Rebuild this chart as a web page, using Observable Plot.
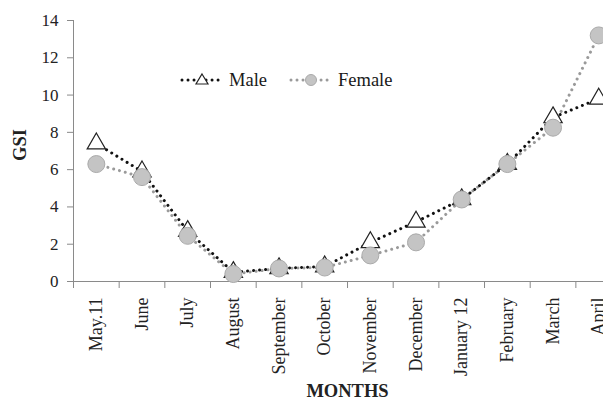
<!DOCTYPE html>
<html><head><meta charset="utf-8">
<script src="https://cdn.jsdelivr.net/npm/d3@7"></script>
<script src="https://cdn.jsdelivr.net/npm/@observablehq/plot@0.6"></script>
<style>
body{margin:0;background:#fff;}
#wrap{position:relative;width:603px;height:400px;overflow:hidden;font-family:"Liberation Serif","Times New Roman",serif;background:#fff;}
.leg{position:absolute;top:70px;height:20px;display:flex;align-items:center;font-size:18.5px;color:#1a1a1a;white-space:nowrap;}
.leg svg{display:block;}
.leg span{margin-left:5px;}
</style></head><body><div id="wrap"></div>
<script>
const months = ["May.11","June","July","August","September","October","November","December","January 12","February","March","April"];
const male = [7.4,5.9,2.7,0.5,0.7,0.8,2.1,3.2,4.4,6.3,8.8,9.8];
const female = [6.3,5.6,2.45,0.4,0.7,0.75,1.4,2.1,4.4,6.3,8.25,13.2];
const yTicks = [0,2,4,6,8,10,12,14];
const seriesNames = ["Male","Female"];

const maleData = months.map((m,i)=>({i:i+0.5, month:m, v:male[i]}));
const femaleData = months.map((m,i)=>({i:i+0.5, month:m, v:female[i]}));

const axisColor = "#8a8a8a";
const chart = Plot.plot({
  width: 603, height: 400,
  marginLeft: 73, marginRight: 0, marginTop: 20, marginBottom: 119,
  style: {fontFamily: "'Liberation Serif','Times New Roman',serif", fontSize: "17px", color: "#222", background: "transparent", overflow: "visible"},
  x: {type: "linear", domain: [0, months.length], range: [73, 73 + 45.67 * months.length]},
  y: {domain: [0, 14], range: [281, 20]},
  marks: [
    Plot.ruleX([0], {y1: 0, y2: 14, stroke: axisColor}),
    Plot.ruleY([0], {stroke: axisColor}),
    Plot.axisY({ticks: yTicks, tickSize: 6, tickPadding: 9, label: null, stroke: axisColor, fill: "#222", fontSize: 17}),
    Plot.axisX({ticks: d3.range(months.length + 1), tickSize: 7, tickFormat: () => "", label: null, stroke: axisColor}),
    Plot.axisX({ticks: months.map((m, i) => i + 0.5), tickSize: 0, tickPadding: 16, tickRotate: -90, tickFormat: t => months[Math.round(t - 0.5)], label: null, fill: "#222", fontSize: 18}),
    Plot.line(femaleData, {x: "i", y: "v", stroke: "#9a9a9a", strokeWidth: 3, strokeDasharray: "0.01 6", strokeLinecap: "round"}),
    Plot.line(maleData, {x: "i", y: "v", stroke: "#111", strokeWidth: 3, strokeDasharray: "0.01 6", strokeLinecap: "round"}),
    Plot.dot(maleData, {x: "i", y: "v", symbol: "triangle", r: 6.8, fill: "white", stroke: "#222", strokeWidth: 1.2}),
    Plot.dot(femaleData, {x: "i", y: "v", r: 8.5, fill: "#c4c4c4", stroke: "#aaaaaa", strokeWidth: 1}),
    Plot.text(["GSI"], {frameAnchor: "left", dx: -53, dy: 10, rotate: -90, fontWeight: "bold", fontSize: 18.5, fill: "#222"}),
    Plot.text(["MONTHS"], {x: () => months.length / 2, frameAnchor: "bottom", dy: 115, lineAnchor: "bottom", fontWeight: "bold", fontSize: 18.5, fill: "#222"})
  ]
});
const wrap = document.getElementById("wrap");
wrap.appendChild(chart);

// legend
function legendItem(name, left, kind) {
  const d = document.createElement("div");
  d.className = "leg";
  d.style.left = left + "px";
  const col = kind === "tri" ? "#111" : "#9a9a9a";
  const marker = kind === "tri"
    ? `<path d="M22,4 L28,14 L16,14 Z" fill="white" stroke="#222" stroke-width="1.2"/>`
    : `<circle cx="22" cy="10" r="5.5" fill="#c4c4c4" stroke="#aaa"/>`;
  d.innerHTML = `<svg width="44" height="20"><line x1="2" y1="10" x2="42" y2="10" stroke="${col}" stroke-width="3" stroke-dasharray="0.01 6" stroke-linecap="round"/>${marker}</svg><span>${name}</span>`;
  wrap.appendChild(d);
}
legendItem(seriesNames[0], 180, "tri");
legendItem(seriesNames[1], 289, "circ");
</script>
</body></html>
